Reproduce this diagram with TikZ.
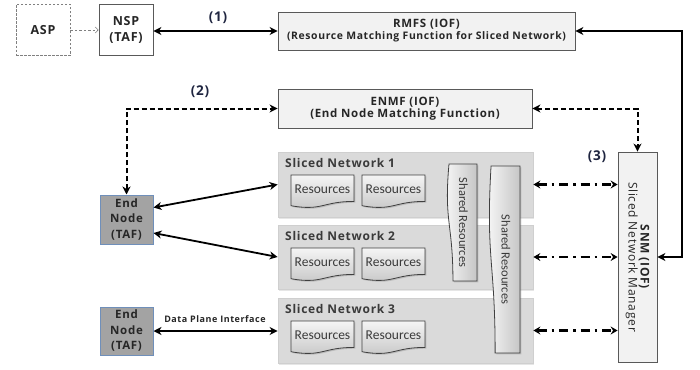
\documentclass[tikz,border=0pt]{standalone}
\usepackage{fontspec}
\setmainfont{Open Sans}[LetterSpace=6]
\newfontfamily\calib{Carlito}
\usetikzlibrary{arrows.meta,shadows,calc}

\definecolor{boxfill}{HTML}{F2F2F2}
\definecolor{boxline}{HTML}{595959}
\definecolor{slicefill}{HTML}{DADADA}
\definecolor{sliceline}{HTML}{CFCFCF}
\definecolor{nodefill}{HTML}{A3A3A3}
\definecolor{nodeline}{HTML}{6F8FBA}
\definecolor{txt}{HTML}{262626}
\definecolor{softtxt}{HTML}{3A3A3A}
\definecolor{numtxt}{HTML}{1F2540}

\tikzset{
  shadowed/.style={drop shadow={opacity=0.35,shadow xshift=1.3pt,shadow yshift=-1.3pt}},
  funcbox/.style={draw=boxline, fill=boxfill, line width=0.8pt, align=center,
    inner sep=0pt, shadowed, text=txt},
  plainbox/.style={draw=boxline, fill=white, line width=0.8pt, align=center,
    inner sep=0pt, text=txt, font=\bfseries\fontsize{12.5}{16}\selectfont},
  slicebox/.style={draw=sliceline, fill=slicefill, line width=0.8pt, inner sep=0pt,
    drop shadow={opacity=0.2,shadow xshift=1pt,shadow yshift=-1.5pt}},
  slicetitle/.style={anchor=west, inner sep=0pt, text=softtxt,
    font=\bfseries\fontsize{12}{14}\selectfont},
  endnode/.style={draw=nodeline, fill=nodefill, line width=1pt, align=center,
    inner sep=0pt, text=txt, font=\bfseries\fontsize{11.5}{15.5}\selectfont},
  resshape/.style={draw=black!75, line width=0.8pt, top color=white!92!gray,
    bottom color=gray!45, shadowed},
  sharedshape/.style={draw=black!75, line width=0.8pt, left color=white!95!gray,
    right color=gray!45, shadowed},
  restext/.style={inner sep=0pt, text=softtxt, font=\calib\fontsize{13.5}{15}\selectfont},
  sharedtext/.style={inner sep=0pt, rotate=-90, text=softtxt,
    font=\calib\fontsize{12.5}{14}\selectfont},
  steplabel/.style={inner sep=0pt, text=numtxt, font=\bfseries\fontsize{13.5}{15}\selectfont},
  solidlink/.style={line width=1.8pt,
    arrows={Stealth[length=8pt,width=8pt,inset=2.5pt]-Stealth[length=8pt,width=8pt,inset=2.5pt]}},
  dashlink/.style={line width=2pt, dash pattern=on 5pt off 3pt,
    arrows={Stealth[length=8pt,width=8pt,inset=2.5pt]-Stealth[length=8pt,width=8pt,inset=2.5pt]}},
  dashdotlink/.style={line width=2.2pt, dash pattern=on 9pt off 5pt on 2.5pt off 5pt,
    arrows={Stealth[length=7pt,width=8pt,inset=2.5pt]-Stealth[length=7pt,width=8pt,inset=2.5pt]}},
  hintlink/.style={draw=gray, line width=0.6pt, dash pattern=on 2.5pt off 2pt,
    -{Straight Barb[length=3pt,width=6pt]}},
}

% document shape with a wavy lower edge: name, centre x, centre y
\newcommand\resbox[3]{%
  \path[resshape] (#2-31.5,#3-16.5) -- (#2+31.5,#3-16.5) -- (#2+31.5,#3+9.9)
     .. controls (#2,#3+9.9) and (#2,#3+19.8) .. (#2-31.5,#3+14.2) -- cycle;
  \node[restext] (#1) at (#2,#3-2) {Resources};}

% same shape turned a quarter clockwise: name, centre x, centre y, width, height
\newcommand\sharedbox[5]{%
  \path[sharedshape] (#2+#4/2,#3-#5/2) -- (#2+#4/2,#3+#5/2)
     -- (#2+#4/2-0.802*#4,#3+#5/2)
     .. controls (#2+#4/2-0.802*#4,#3) and (#2+#4/2-1.1075*#4,#3) ..
        (#2+#4/2-0.934*#4,#3-#5/2) -- cycle;
  \node[sharedtext] (#1) at (#2+1.5,#3) {Shared Resources};}

\begin{document}
\begin{tikzpicture}[x=1pt,y=-1pt]
\useasboundingbox (0,0) rectangle (700,369);

% top row
\node[plainbox, draw=gray, dash pattern=on 2.5pt off 1.5pt, minimum width=54pt, minimum height=51pt]
  (asp) at (43,30) {ASP};
\node[plainbox, minimum width=54pt, minimum height=51pt] (nsp) at (126,30) {NSP\\(TAF)};
\node[funcbox, minimum width=297pt, minimum height=38pt] (rmfs) at (426.5,31)
  {{\bfseries\fontsize{11.5}{14}\selectfont RMFS (IOF)}\\
   {\bfseries\fontsize{10.4}{12}\selectfont (Resource Matching Function for Sliced Network)}};
\node[funcbox, minimum width=254pt, minimum height=39pt] (enmf) at (405,108.5)
  {{\bfseries\fontsize{11.5}{14}\selectfont ENMF (IOF)}\\
   {\bfseries\fontsize{11.5}{13}\selectfont (End Node Matching Function)}};

% sliced networks
\node[slicebox, minimum width=255pt, minimum height=65pt] (sn1) at (405.5,184.5) {};
\node[slicebox, minimum width=255pt, minimum height=64pt] (sn2) at (405.5,257) {};
\node[slicebox, minimum width=255pt, minimum height=65pt] (sn3) at (405.5,330.5) {};
\node[slicetitle] (sn1t) at (285,163) {Sliced Network 1};
\node[slicetitle] (sn2t) at (285,236) {Sliced Network 2};
\node[slicetitle] (sn3t) at (285,309) {Sliced Network 3};

\resbox{r11}{322.5}{191.5}
\resbox{r12}{393.5}{191.5}
\resbox{r21}{322.5}{264.5}
\resbox{r22}{393.5}{264.5}
\resbox{r31}{322.5}{337.5}
\resbox{r32}{393.5}{337.5}

\sharedbox{sh1}{462}{222.5}{30}{117}
\sharedbox{sh2}{504.5}{259.5}{31}{187}

% manager
\node[funcbox, minimum width=39pt, minimum height=210pt] (snm) at (637.5,257) {};
\node[rotate=-90, align=center, inner sep=0pt, text=txt] (snmt) at (snm.center)
  {{\bfseries\fontsize{12}{15}\selectfont SNM (IOF)}\\
   {\fontsize{12}{14}\selectfont Sliced Network Manager}};

% end nodes
\node[endnode, minimum width=53pt, minimum height=49pt] (en1) at (126.5,219.5) {End\\Node\\(TAF)};
\node[endnode, minimum width=53pt, minimum height=48pt] (en2) at (126.5,331) {End\\Node\\(TAF)};

% connectors
\draw[hintlink] (asp.east) -- (nsp.west);
\draw[solidlink] (nsp.east |- rmfs.west) -- (rmfs.west);
\node[steplabel] (l1) at (218,18) {(1)};

\coordinate (rmfsturn) at (682,31);
\draw[solidlink] (rmfs.east) -- (rmfsturn) |- (snm.east);

\draw[dashlink] (en1.north) |- (enmf.west);
\node[steplabel] (l2) at (200,92) {(2)};
\draw[dashlink] (enmf.east) -| (snm.north);
\node[steplabel] (l3) at (597,157) {(3)};

\draw[solidlink] ([yshift=12pt]en1.east) -- (sn1.west);
\draw[solidlink] ([yshift=-13.5pt]en1.east) -- (sn2.west);
\draw[solidlink] (en2.east) -- (sn3.west |- en2.east);
\node[inner sep=0pt, text=txt, font=\bfseries\fontsize{9}{11}\selectfont] (dpi) at (215,319)
  {Data Plane Interface};

\draw[dashdotlink] (sn1.east) -- (sn1.east -| snm.west);
\draw[dashdotlink] (sn2.east) -- (sn2.east -| snm.west);
\draw[dashdotlink] (sn3.east) -- (sn3.east -| snm.west);
\end{tikzpicture}
\end{document}
